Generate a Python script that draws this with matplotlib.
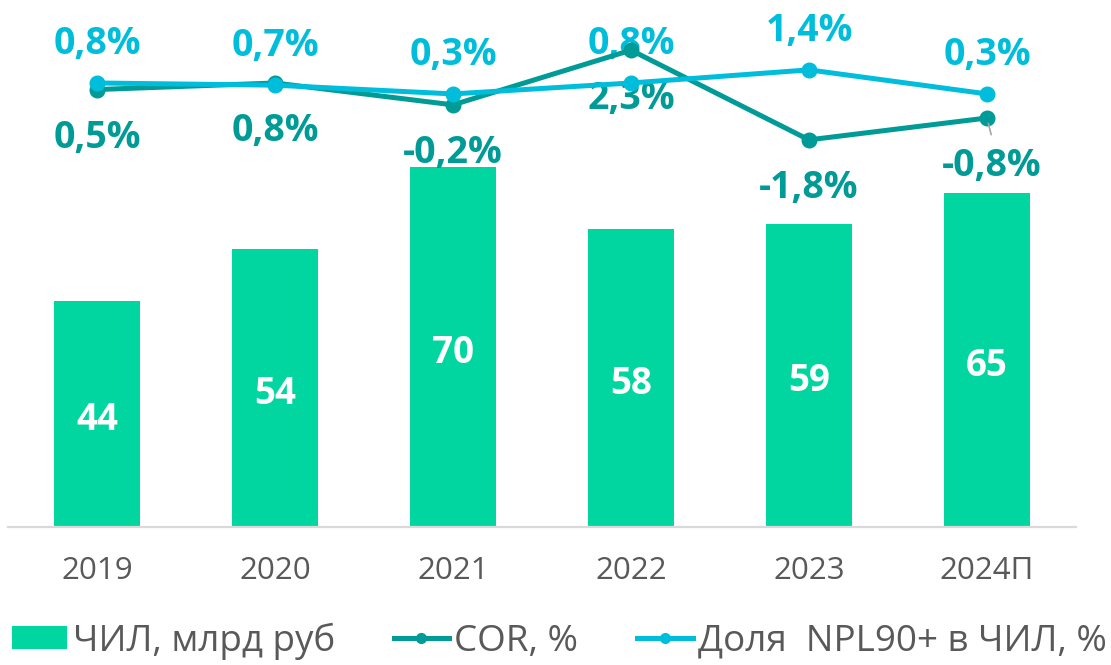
import matplotlib
matplotlib.use("Agg")
import matplotlib.pyplot as plt
from matplotlib.patches import Patch
from matplotlib.lines import Line2D

plt.rcParams['font.family'] = ['Open Sans', 'DejaVu Sans']

categories = ['2019', '2020', '2021', '2022', '2023', '2024П']
chil = [44, 54, 70, 58, 59, 65]
cor = [0.5, 0.8, -0.2, 2.3, -1.8, -0.8]
npl = [0.8, 0.7, 0.3, 0.8, 1.4, 0.3]

chil_labels = ['44', '54', '70', '58', '59', '65']
cor_labels = ['0,5%', '0,8%', '-0,2%', '2,3%', '-1,8%', '-0,8%']
npl_labels = ['0,8%', '0,7%', '0,3%', '0,8%', '1,4%', '0,3%']

BAR = '#02D6A0'
COR_C = '#009B96'
NPL_C = '#00BEDB'
GRAY = '#595959'

fig = plt.figure(figsize=(11.11, 6.65), dpi=100)
ax = fig.add_axes([8/1111, 1-527/665, 1068/1111, 514/665])
x = list(range(len(categories)))
ax.bar(x, chil, width=0.48, color=BAR, zorder=2)
ax.set_xlim(-0.5, len(categories)-0.5)
ax.set_ylim(0, 100)
ax.set_yticks([])
ax.set_xticks(x)
ax.set_xticklabels(categories, fontsize=22.5, color=GRAY)
ax.tick_params(axis='x', length=0, pad=21)
for s in ['top', 'left', 'right']:
    ax.spines[s].set_visible(False)
ax.spines['bottom'].set_color('#D9D9D9')
ax.spines['bottom'].set_linewidth(1.6)

for xi, v, lab in zip(x, chil, chil_labels):
    ax.annotate(lab, xy=(xi, v/2), xytext=(0, -11.5), textcoords='offset points',
                ha='center', va='baseline', fontsize=26.5, fontweight='bold', color='white', zorder=3)

ax2 = ax.twinx()
ax2.set_ylim(-19.5, 4.0)
ax2.axis('off')
ax2.plot(x, cor, color=COR_C, lw=3.6, marker='o', markersize=10.5, zorder=3)
ax2.plot(x, npl, color=NPL_C, lw=3.6, marker='o', markersize=10.5, zorder=4)

for xi, v, lab in zip(x, npl, npl_labels):
    ax2.annotate(lab, xy=(xi, v), xytext=(0, 21), textcoords='offset points',
                 ha='center', va='baseline', fontsize=27, fontweight='bold', color=NPL_C, zorder=2)
for i, (xi, v, lab) in enumerate(zip(x, cor, cor_labels)):
    dx = 3.5 if i == 5 else 0
    ax2.annotate(lab, xy=(xi, v), xytext=(dx, -42), textcoords='offset points',
                 ha='center', va='baseline', fontsize=27, fontweight='bold', color=COR_C, zorder=2)
# leader line for last COR label
ax2.annotate('', xy=(x[5], cor[5]), xytext=(3, -12), textcoords='offset points',
             arrowprops=dict(arrowstyle='-', color='#A6A6A6', lw=1.2, shrinkA=0, shrinkB=4))

handles = [Patch(facecolor=BAR, edgecolor='none'),
           Line2D([0], [0], color=COR_C, lw=3.6, marker='o', markersize=7),
           Line2D([0], [0], color=NPL_C, lw=3.6, marker='o', markersize=7)]
labels = ['ЧИЛ, млрд руб', 'COR, %', 'Доля  NPL90+ в ЧИЛ, %']
leg = fig.legend(handles, labels, loc='center', bbox_to_anchor=(0.5035, 1-641/665),
                 ncol=3, frameon=False, fontsize=26.5, handlelength=1.5, handleheight=0.6,
                 handletextpad=0.15, columnspacing=1.6, borderaxespad=0, borderpad=0)
for t in leg.get_texts():
    t.set_color(GRAY)

fig.savefig('out.png', dpi=100)
